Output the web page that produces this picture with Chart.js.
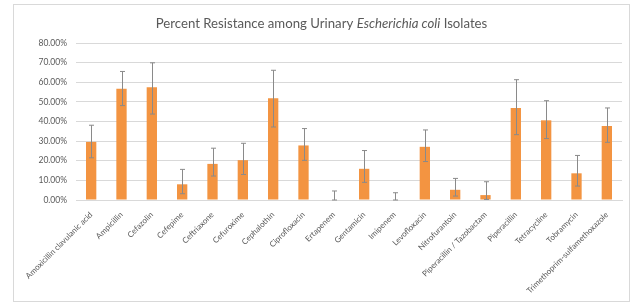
<!DOCTYPE html>
<html>
<head>
<meta charset="utf-8">
<script src="https://cdn.jsdelivr.net/npm/chart.js@4.4.1/dist/chart.umd.min.js"></script>
<style>
  html, body { margin: 0; padding: 0; background: #fff; }
  #box {
    position: absolute; left: 13px; top: 4px;
    width: 615px; height: 296px;
    border: 1px solid #d9d9d9;
  }
</style>
</head>
<body>
<div id="box"><canvas id="myChart" width="615" height="296"></canvas></div>
<script>
const ANTIBIOTICS = [
    "Amoxicillin clavulanic acid", "Ampicillin", "Cefazolin", "Cefepime",
    "Ceftriaxone", "Cefuroxime", "Cephalothin", "Ciprofloxacin", "Ertapenem",
    "Gentamicin", "Imipenem", "Levofloxacin", "Nitrofurantoin",
    "Piperacillin / Tazobactam", "Piperacillin", "Tetracycline", "Tobramycin",
    "Trimethoprim-sulfamethoxazole"
];

// percent resistant
const RESISTANCE = [29.6, 56.7, 57.4, 8.0, 18.4, 20.3, 51.8, 27.8, 0, 15.9, 0, 27.1, 5.2, 2.5, 46.9, 40.6, 13.6, 37.7];
// error bar ends
const ERR_HIGH = [38.1, 65.5, 69.9, 15.6, 26.4, 28.9, 66.1, 36.4, 4.6, 25.2, 3.7, 35.7, 11.0, 9.3, 61.3, 50.6, 22.7, 46.9];
const ERR_LOW = [21.5, 48.1, 43.8, 3.2, 12.2, 13.0, 37.2, 20.2, 0, 9.0, 0, 19.6, 2.0, 0.3, 33.3, 31.3, 7.1, 29.4];

const TEXT = '#595959';
const FONT = 'Lato';

const titlePlugin = {
    id: 'mixedTitle',
    afterDraw(chart) {
        const c = chart.ctx;
        const parts = [
            ['Percent Resistance among Urinary ', 'normal'],
            ['Escherichia coli', 'italic'],
            [' Isolates', 'normal']
        ];
        c.save();
        c.fillStyle = TEXT;
        c.textBaseline = 'alphabetic';
        let total = 0;
        parts.forEach(p => {
            c.font = p[1] + ' 13.2px ' + FONT;
            total += c.measureText(p[0]).width;
        });
        let x = chart.width / 2 - total / 2;
        parts.forEach(p => {
            c.font = p[1] + ' 13.2px ' + FONT;
            c.fillText(p[0], x, 23);
            x += c.measureText(p[0]).width;
        });
        c.restore();
    }
};

const errorBars = {
    id: 'errorBars',
    afterDatasetsDraw(chart) {
        const c = chart.ctx;
        const y = chart.scales.y;
        const meta = chart.getDatasetMeta(0);
        c.save();
        c.strokeStyle = '#8a8a8a';
        c.lineWidth = 1;
        meta.data.forEach((bar, i) => {
            const x = Math.round(bar.x) + 0.5;
            const top = y.getPixelForValue(ERR_HIGH[i]);
            const bot = y.getPixelForValue(ERR_LOW[i]);
            c.beginPath();
            c.moveTo(x, top); c.lineTo(x, bot);
            c.moveTo(x - 2.5, top); c.lineTo(x + 2.5, top);
            c.moveTo(x - 2.5, bot); c.lineTo(x + 2.5, bot);
            c.stroke();
        });
        c.restore();
    }
};

const ctx = document.querySelector('#myChart');

var chart = new Chart(ctx, {
    type: 'bar',
    data: {
        labels: ANTIBIOTICS,
        datasets: [{
            data: RESISTANCE,
            backgroundColor: '#F39441',
            borderWidth: 0,
            barPercentage: 0.34,
            categoryPercentage: 1
        }]
    },
    options: {
        responsive: false,
        animation: false,
        layout: { padding: { top: 38, right: 7, left: 0, bottom: 0 } },
        plugins: {
            legend: { display: false },
            tooltip: { enabled: false }
        },
        scales: {
            x: {
                grid: { display: false },
                border: { color: '#d9d9d9' },
                ticks: {
                    color: TEXT,
                    font: { family: FONT, size: 8 },
                    minRotation: 45,
                    maxRotation: 45,
                    autoSkip: false,
                    padding: 2
                },
                afterFit(scale) { scale.height = 101; }
            },
            y: {
                min: 0,
                max: 80,
                grid: { color: '#d9d9d9', drawTicks: false },
                border: { display: false },
                ticks: {
                    stepSize: 10,
                    color: TEXT,
                    font: { family: FONT, size: 8.5 },
                    padding: 9,
                    callback: v => v.toFixed(2) + '%'
                },
                afterFit(scale) { scale.width = 62; }
            }
        }
    },
    plugins: [titlePlugin, errorBars]
});
</script>
</body>
</html>
